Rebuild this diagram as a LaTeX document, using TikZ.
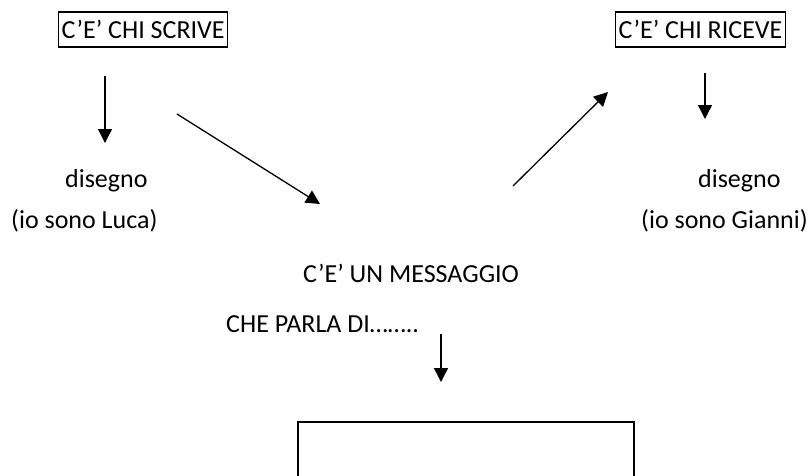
\documentclass[tikz,border=0pt]{standalone}
\usepackage{fontspec}
\setmainfont{Carlito}
\usetikzlibrary{arrows.meta}
\begin{document}
\begin{tikzpicture}[x=1pt,y=-1pt,
  every node/.style={font=\fontsize{26}{31}\selectfont},
  lbl/.style={anchor=base west, inner sep=0pt},
  titlebox/.style={draw, line width=1.4pt, anchor=base west, inner xsep=3pt, inner ysep=3pt, text height=23pt, text depth=6pt},
  conn/.style={line width=1.3pt, -{Triangle[length=14pt,width=14pt]}}]
\useasboundingbox (0,0) rectangle (809,475);
\clip (0,0) rectangle (809,475);
% boxes
\node[titlebox] (scrive) at (58,38) {C’E’ CHI SCRIVE};
\node[titlebox] (riceve) at (615,38) {C’E’ CHI RICEVE};
% labels
\node[lbl] (disL) at (65,187) {disegno};
\node[lbl] (luca) at (11,228) {(io sono Luca)};
\node[lbl] (disR) at (698,187) {disegno};
\node[lbl] (gianni) at (641,228) {(io sono Gianni)};
\node[lbl] (msg) at (303,282) {C’E’ UN MESSAGGIO};
\node[lbl] (parla) at (226,332) {CHE PARLA DI……..};
% bottom open box
\node[draw, line width=1.5pt, anchor=north west, inner sep=0pt, minimum width=336pt, minimum height=120pt] (topic) at (297,421) {};
% connector ends
\coordinate (a1s) at (105,76);  \coordinate (a1e) at (105,143);
\coordinate (a2s) at (177,114); \coordinate (a2e) at (320,204);
\coordinate (a3s) at (513,186); \coordinate (a3e) at (608,92);
\coordinate (a4s) at (705,73);  \coordinate (a4e) at (705,119);
\coordinate (a5s) at (441,334); \coordinate (a5e) at (441,382);
\draw[conn] (a1s) -- (a1e);
\draw[conn] (a2s) -- (a2e);
\draw[conn] (a3s) -- (a3e);
\draw[conn] (a4s) -- (a4e);
\draw[conn] (a5s) -- (a5e);
\end{tikzpicture}
\end{document}
